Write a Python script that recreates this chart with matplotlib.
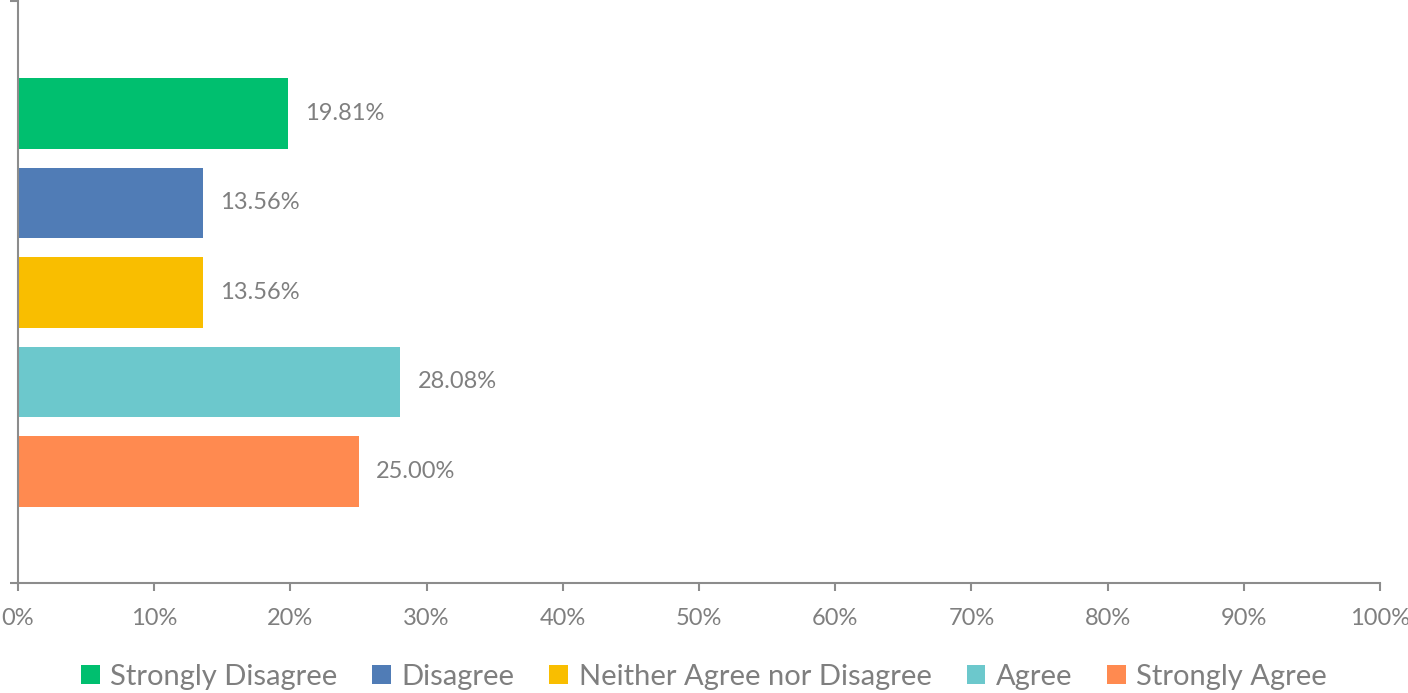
import matplotlib
matplotlib.use("Agg")
import matplotlib.pyplot as plt
from matplotlib.patches import Patch
from matplotlib.ticker import PercentFormatter

categories = ["Strongly Disagree", "Disagree", "Neither Agree nor Disagree",
              "Agree", "Strongly Agree"]
values = [19.81, 13.56, 13.56, 28.08, 25.00]
colors = ["#00BF6F", "#507CB6", "#F9BE00", "#6CC8CC", "#FF8A50"]
xticks = list(range(0, 101, 10))

plt.rcParams["font.family"] = ["Lato", "DejaVu Sans"]
text_gray = "#7F7F7F"
axis_gray = "#8C8C8C"

W, H = 1408, 693
fig = plt.figure(figsize=(W / 100, H / 100), dpi=100)
ax = fig.add_axes([18 / W, 110 / H, (1380 - 18) / W, (583 - 1) / H])

pos = list(range(len(values)))
ax.barh(pos, values, height=0.79, color=colors, zorder=2)
for p, v in zip(pos, values):
    ax.annotate(f"{v:.2f}%", xy=(v, p), xytext=(17, 0), textcoords="offset pixels",
                va="center", ha="left", fontsize=17, color=text_gray)

ax.set_xlim(0, 100)
ax.set_ylim(5.246, -1.257)
ax.set_xticks(xticks)
ax.xaxis.set_major_formatter(PercentFormatter(decimals=0))
ax.set_yticks([-1.257, 5.246])
ax.set_yticklabels([])

for s in ("top", "right"):
    ax.spines[s].set_visible(False)
for s in ("left", "bottom"):
    ax.spines[s].set_color(axis_gray)
    ax.spines[s].set_linewidth(1.5)
ax.tick_params(axis="x", direction="out", length=6, width=1.5, color=axis_gray,
               labelcolor=text_gray, labelsize=17, pad=12)
ax.tick_params(axis="y", direction="out", length=6, width=1.5, color=axis_gray)

handles = [Patch(facecolor=c, edgecolor="none") for c in colors]
fig.legend(handles, categories, loc="center", bbox_to_anchor=(0.5, 1 - 677 / H),
           ncol=5, frameon=False, fontsize=21, labelcolor=text_gray,
           handlelength=0.65, handleheight=0.65, handletextpad=0.35,
           columnspacing=1.2)

fig.savefig("out.png", dpi=100)
